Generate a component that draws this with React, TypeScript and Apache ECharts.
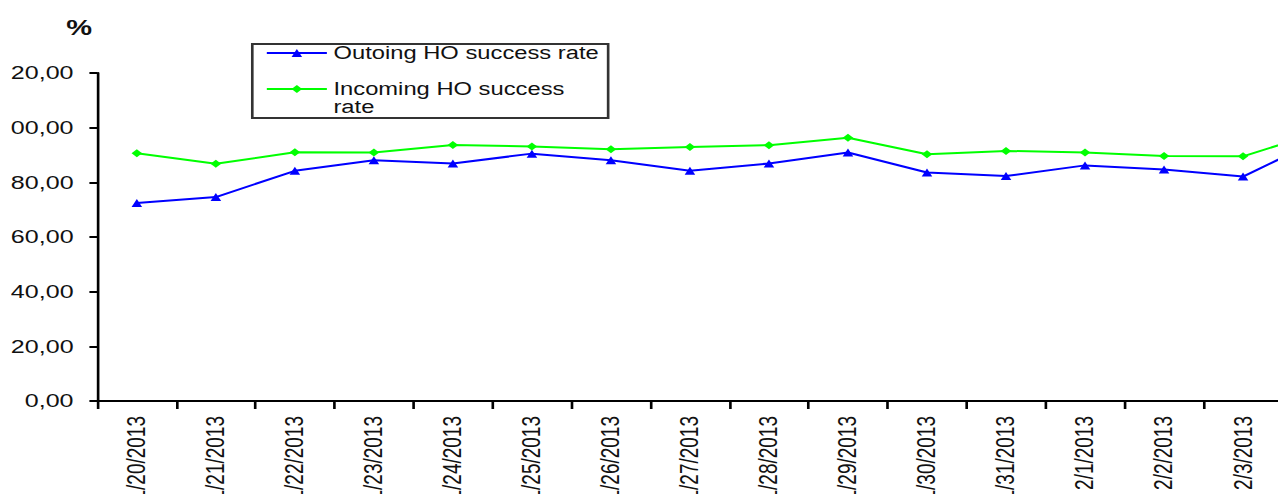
import React, { useEffect, useRef } from "react";
import * as echarts from "echarts";

// Daily handover success rates, %
const dates = [
  "1/20/2013", "1/21/2013", "1/22/2013", "1/23/2013", "1/24/2013",
  "1/25/2013", "1/26/2013", "1/27/2013", "1/28/2013", "1/29/2013",
  "1/30/2013", "1/31/2013", "2/1/2013", "2/2/2013", "2/3/2013", "2/4/2013",
];
const outgoingRate = [
  72.4, 74.6, 84.2, 88.1, 86.9, 90.5, 88.1, 84.2, 86.9, 90.9,
  83.6, 82.3, 86.2, 84.7, 82.1, 96.0,
];
const incomingRate = [
  90.6, 86.8, 91.0, 90.9, 93.7, 93.1, 92.1, 92.9, 93.6, 96.3,
  90.3, 91.5, 90.9, 89.6, 89.5, 98.6,
];
const yMin = 0;
const yMax = 120;
const yStep = 20;

const OUT_NAME = "Outoing HO success rate";
const IN_NAME = "Incoming HO success rate";

const FONT = "'Liberation Sans', Arial, Helvetica, sans-serif";
const STRETCH = 1.32;
const CHART_W = 1040;
const CHART_H = 520;
// the chart is cropped a little on its left side
const CROP_LEFT = 2.2;

export default function App() {
  const ref = useRef<HTMLDivElement | null>(null);

  useEffect(() => {
    if (!ref.current) return;
    const chart = echarts.init(ref.current, null, { renderer: "svg" });
    const bandCount = dates.length;
    const gridLeft = 67.4;
    const gridWidth = bandCount * 59.86;

    chart.setOption({
      animation: false,
      backgroundColor: "#ffffff",
      grid: {
        left: gridLeft,
        top: 73,
        width: gridWidth,
        height: 328,
        containLabel: false,
        outerBoundsMode: "none",
      },
      legend: {
        orient: "vertical",
        left: 184.8,
        top: 44,
        padding: [0, 7, 2, 10],
        itemWidth: 45.5,
        itemHeight: 10,
        itemGap: 0,
        borderColor: "#333333",
        borderWidth: 2,
        textStyle: {
          fontFamily: FONT,
          fontSize: 18,
          lineHeight: 18,
          color: "#111111",
        },
        // second entry wraps; the blank first line keeps its first row level with the icon
        formatter: (name: string) =>
          name === IN_NAME ? " \nIncoming HO success\nrate" : name,
        data: [{ name: OUT_NAME }, { name: IN_NAME }],
      },
      xAxis: {
        type: "category",
        data: dates,
        boundaryGap: true,
        axisLine: { lineStyle: { color: "#000000", width: 2 } },
        axisTick: {
          show: true,
          length: 8,
          lineStyle: { color: "#000000", width: 2 },
        },
        axisLabel: {
          interval: 0,
          rotate: 90,
          margin: 15,
          fontFamily: FONT,
          fontSize: 19,
          color: "#111111",
        },
        splitLine: { show: false },
      },
      yAxis: {
        type: "value",
        min: yMin,
        max: yMax,
        interval: yStep,
        name: "%",
        nameLocation: "end",
        nameGap: 35,
        nameTextStyle: {
          fontFamily: FONT,
          fontSize: 22,
          fontWeight: "bold",
          color: "#111111",
          align: "right",
          padding: [0, 4, 0, 0],
        },
        axisLine: { show: true, lineStyle: { color: "#000000", width: 2 } },
        axisTick: {
          show: true,
          length: 6,
          lineStyle: { color: "#000000", width: 2 },
        },
        axisLabel: {
          margin: 18,
          fontFamily: FONT,
          fontSize: 19,
          color: "#111111",
          formatter: (v: number) => v.toFixed(2).replace(".", ","),
        },
        splitLine: { show: false },
      },
      series: [
        {
          name: OUT_NAME,
          type: "line",
          data: outgoingRate,
          symbol: "triangle",
          symbolSize: [8, 8],
          itemStyle: { color: "#0000ff" },
          lineStyle: { color: "#0000ff", width: 2 },
        },
        {
          name: IN_NAME,
          type: "line",
          data: incomingRate,
          symbol: "diamond",
          symbolSize: [8, 8],
          itemStyle: { color: "#00ff00" },
          lineStyle: { color: "#00ff00", width: 2 },
        },
      ],
    });

    return () => chart.dispose();
  }, []);

  return (
    <div
      style={{
        position: "fixed",
        left: 0,
        top: 0,
        width: 1278,
        height: 494,
        overflow: "hidden",
        background: "#ffffff",
      }}
    >
      <div
        style={{
          position: "absolute",
          left: 8 + CROP_LEFT * STRETCH,
          top: 0,
          width: CHART_W,
          height: CHART_H,
          overflow: "hidden",
          transform: `scaleX(${STRETCH})`,
          transformOrigin: "0 0",
        }}
      >
        <div
          ref={ref}
          style={{
            position: "absolute",
            left: -CROP_LEFT,
            top: 0,
            width: CHART_W,
            height: CHART_H,
          }}
        />
      </div>
    </div>
  );
}
